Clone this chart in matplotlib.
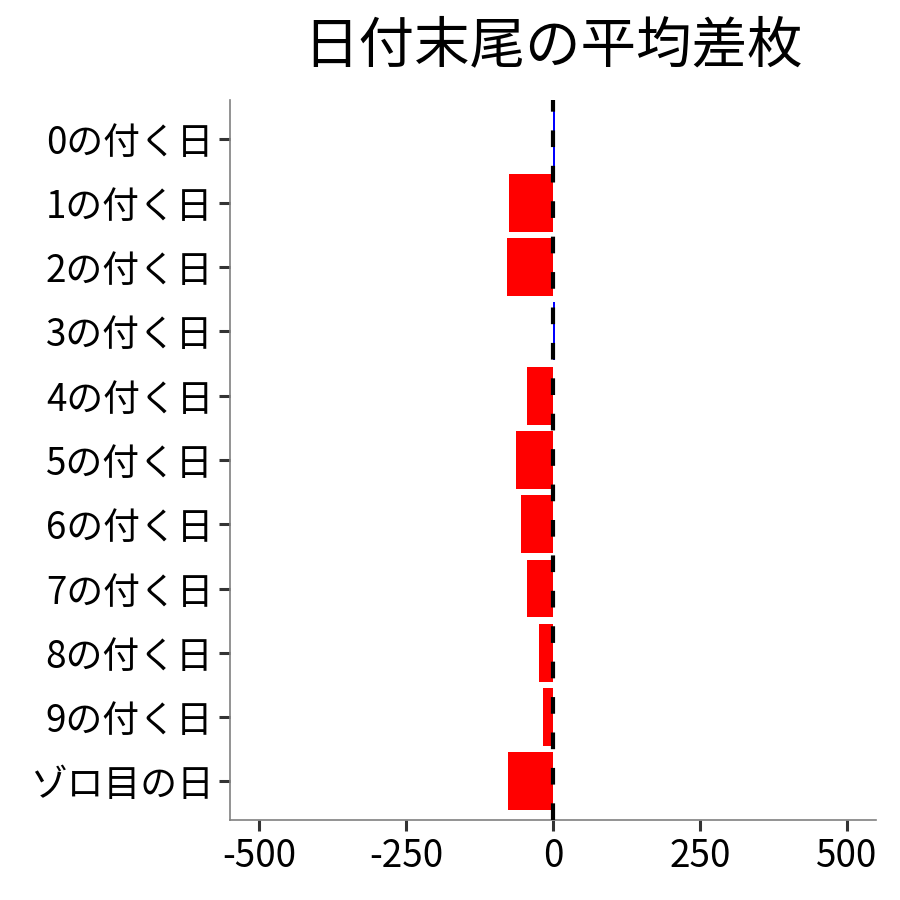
import matplotlib
matplotlib.use('Agg')
import matplotlib.pyplot as plt

plt.rcParams['font.family'] = ['Noto Sans CJK JP', 'DejaVu Sans']

# Data
labels = ['0の付く日', '1の付く日', '2の付く日', '3の付く日', '4の付く日', '5の付く日',
          '6の付く日', '7の付く日', '8の付く日', '9の付く日', 'ゾロ目の日']
avg_diff = [3, -75, -79, 3, -44, -63, -54, -45, -23, -17, -76]
x_ticks = [-500, -250, 0, 250, 500]

colors = ['red' if v < 0 else 'blue' for v in avg_diff]

fig = plt.figure(figsize=(9, 9), dpi=100)
ax = fig.add_axes([0.2556, 0.0889, 0.7177, 0.8])

pos = list(range(len(labels)))
ax.barh(pos, avg_diff, height=0.9, color=colors, edgecolor='none', zorder=2)
ax.axvline(0, color='black', linestyle=(0, (4, 4.5)), linewidth=3, zorder=3)

ax.set_yticks(pos)
ax.set_yticklabels(labels)
ax.set_ylim(10.6, -0.6)
ax.set_xlim(-550, 550)
ax.set_xticks(x_ticks)
ax.set_xticklabels([str(t) for t in x_ticks])

ax.tick_params(axis='both', labelsize=26.5, length=8, width=2.2, color='#333333',
               labelcolor='black', pad=4)
for side in ['top', 'right']:
    ax.spines[side].set_visible(False)
for side in ['left', 'bottom']:
    ax.spines[side].set_color('#808080')
    ax.spines[side].set_linewidth(1.2)

fig.text(0.614, 0.948, '日付末尾の平均差枚', ha='center', va='center', fontsize=40)

fig.savefig('out.png', dpi=100)
